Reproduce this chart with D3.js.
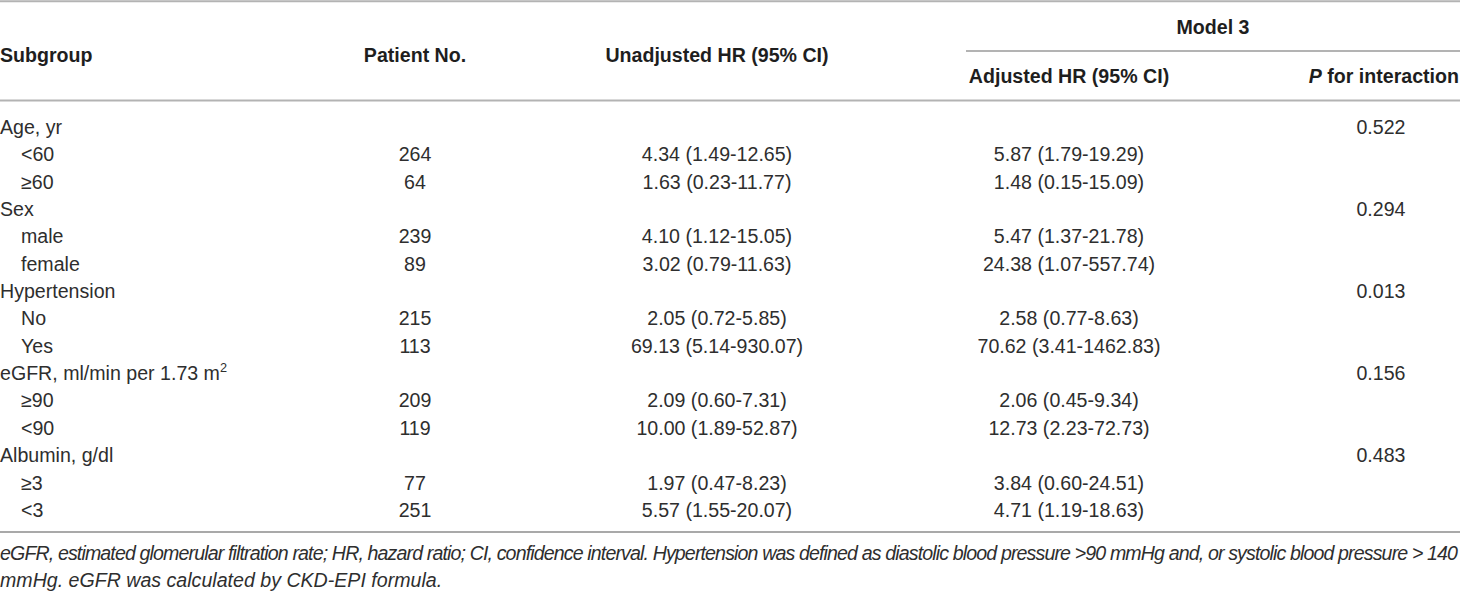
<!DOCTYPE html>
<html>
<head>
<meta charset="utf-8">
<script src="https://cdn.jsdelivr.net/npm/d3@7/dist/d3.min.js"></script>
<style>
  html, body { margin: 0; padding: 0; background: #fff; }
  svg { display: block; }
  text { font-family: "Liberation Sans", Arial, Helvetica, sans-serif; }
</style>
</head>
<body>
<svg id="chart" width="1460" height="591"></svg>
<script>
// ---- data ----
const subgroups = ["Age, yr", "<60", "≥60", "Sex", "male", "female", "Hypertension", "No", "Yes",
                   "eGFR, ml/min per 1.73 m", "≥90", "<90", "Albumin, g/dl", "≥3", "<3"];
const isGroup   = [true, false, false, true, false, false, true, false, false, true, false, false, true, false, false];
const patientNo = ["", "264", "64", "", "239", "89", "", "215", "113", "", "209", "119", "", "77", "251"];
const unadjustedHR = ["", "4.34 (1.49-12.65)", "1.63 (0.23-11.77)", "", "4.10 (1.12-15.05)", "3.02 (0.79-11.63)",
                      "", "2.05 (0.72-5.85)", "69.13 (5.14-930.07)", "", "2.09 (0.60-7.31)", "10.00 (1.89-52.87)",
                      "", "1.97 (0.47-8.23)", "5.57 (1.55-20.07)"];
const adjustedHR = ["", "5.87 (1.79-19.29)", "1.48 (0.15-15.09)", "", "5.47 (1.37-21.78)", "24.38 (1.07-557.74)",
                    "", "2.58 (0.77-8.63)", "70.62 (3.41-1462.83)", "", "2.06 (0.45-9.34)", "12.73 (2.23-72.73)",
                    "", "3.84 (0.60-24.51)", "4.71 (1.19-18.63)"];
const pInteraction = ["0.522", "", "", "0.294", "", "", "0.013", "", "", "0.156", "", "", "0.483", "", ""];
const headers = ["Subgroup", "Patient No.", "Unadjusted HR (95% CI)", "Adjusted HR (95% CI)", "P for interaction"];
const spanHeader = "Model 3";
const footnote = [
  "eGFR, estimated glomerular filtration rate; HR, hazard ratio; CI, confidence interval. Hypertension was defined as diastolic blood pressure >90 mmHg and, or systolic blood pressure > 140",
  "mmHg. eGFR was calculated by CKD-EPI formula."
];

// ---- layout ----
const W = 1460;
const FS = 19.6;
const svg = d3.select("#chart");

const rowIdx = d3.range(subgroups.length);
const y = d3.scaleBand().domain(rowIdx).range([113.3, 113.3 + 27.35 * subgroups.length]).padding(0);
const rowBase = i => y(i) + y.bandwidth() / 2 + 7;

const colX = d3.scaleOrdinal()
  .domain(["sub", "pat", "unadj", "adj", "p"])
  .range([0, 415, 717, 1069, 1381]);

// ---- rules ----
function hline(x1, x2, yy, w, c) {
  svg.append("line").attr("x1", x1).attr("x2", x2).attr("y1", yy).attr("y2", yy)
    .attr("stroke", c).attr("stroke-width", w);
}
hline(0, W, 1.2, 2, "#b3b3b3");
hline(966, W, 51, 2, "#b3b3b3");
hline(0, W, 100.5, 2, "#b3b3b3");
hline(0, W, 532, 1.5, "#8c8c8c");

// ---- header ----
const hdr = svg.append("g").attr("font-weight", "bold").attr("font-size", FS).attr("fill", "#1e1e1e");
hdr.append("text").attr("x", (966 + W) / 2).attr("y", 33.5).attr("text-anchor", "middle").text(spanHeader);
hdr.append("text").attr("x", colX("sub")).attr("y", 61.5).text(headers[0]);
hdr.append("text").attr("x", colX("pat")).attr("y", 61.5).attr("text-anchor", "middle").text(headers[1]);
hdr.append("text").attr("x", colX("unadj")).attr("y", 61.5).attr("text-anchor", "middle").text(headers[2]);
hdr.append("text").attr("x", colX("adj")).attr("y", 83).attr("text-anchor", "middle").text(headers[3]);
const pt = hdr.append("text").attr("x", W - 1).attr("y", 83).attr("text-anchor", "end");
pt.append("tspan").attr("font-style", "italic").text("P");
pt.append("tspan").text(headers[4].slice(1));

// ---- body ----
const body = svg.append("g").attr("font-size", FS).attr("fill", "#2e2e2e");
const rows = body.selectAll("g.row").data(rowIdx).join("g").attr("class", "row");

rows.each(function(i) {
  const g = d3.select(this);
  const by = rowBase(i);
  const t = g.append("text").attr("x", colX("sub") + (isGroup[i] ? 0 : 21)).attr("y", by);
  if (i === 9) {
    t.append("tspan").text(subgroups[i]);
    t.append("tspan").attr("font-size", FS * 0.65).attr("dy", -8).text("2");
  } else {
    t.text(subgroups[i]);
  }
  if (patientNo[i]) g.append("text").attr("x", colX("pat")).attr("y", by).attr("text-anchor", "middle").text(patientNo[i]);
  if (unadjustedHR[i]) g.append("text").attr("x", colX("unadj")).attr("y", by).attr("text-anchor", "middle").text(unadjustedHR[i]);
  if (adjustedHR[i]) g.append("text").attr("x", colX("adj")).attr("y", by).attr("text-anchor", "middle").text(adjustedHR[i]);
  if (pInteraction[i]) g.append("text").attr("x", colX("p")).attr("y", by).attr("text-anchor", "middle").text(pInteraction[i]);
});

// ---- footnote ----
const fn = svg.append("g").attr("font-size", FS).attr("font-style", "italic").attr("fill", "#2e2e2e");
fn.append("text").attr("x", 0).attr("y", 559.5).attr("textLength", 1458).attr("lengthAdjust", "spacing").text(footnote[0]);
fn.append("text").attr("x", 0).attr("y", 586.5).text(footnote[1]);
</script>
</body>
</html>
